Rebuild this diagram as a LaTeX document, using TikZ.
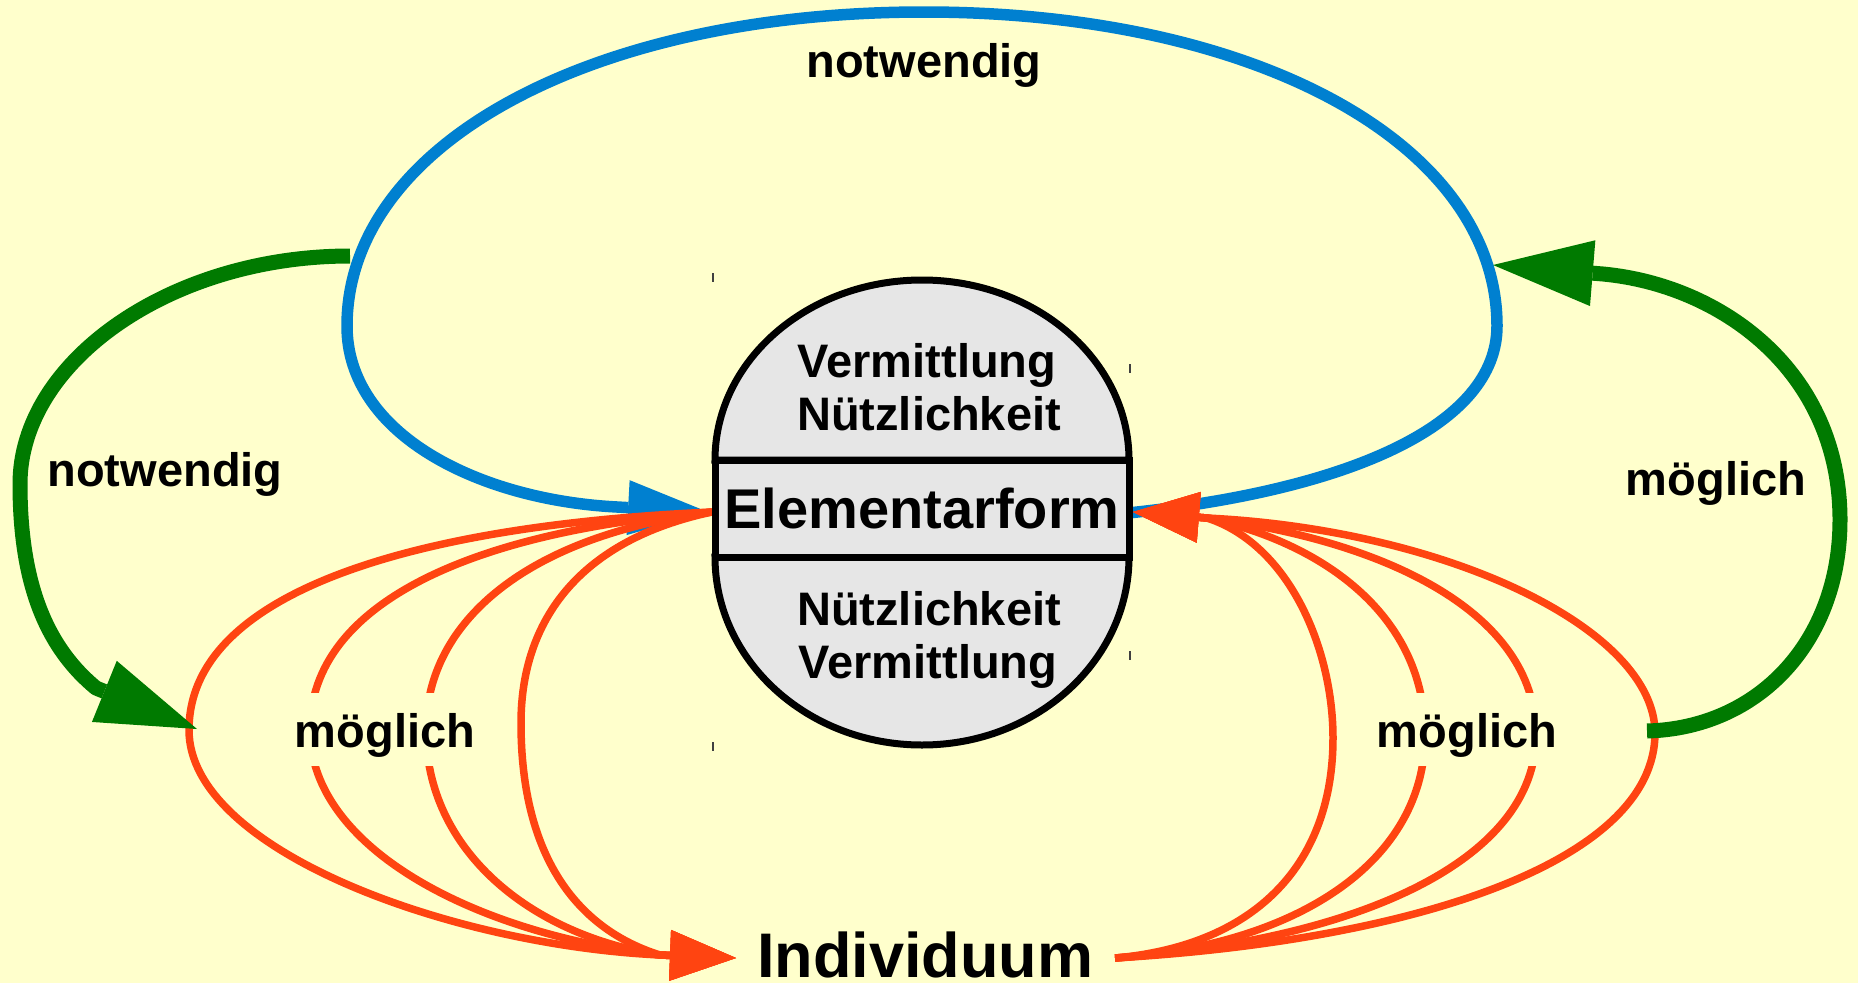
\documentclass[tikz,border=0pt]{standalone}
\usepackage{fontspec}
\setmainfont{Liberation Sans}
\usetikzlibrary{arrows.meta}
\definecolor{bg}{HTML}{FFFFCC}
\definecolor{lblue}{HTML}{0080D0}
\definecolor{lred}{HTML}{FF4411}
\definecolor{lgreen}{HTML}{007A00}
\definecolor{lgray}{HTML}{E6E6E6}
\begin{document}
\begin{tikzpicture}[x=1pt,y=-1pt,
  bluearc/.style={draw=lblue, line width=11.5pt, line join=round, -{Triangle[length=80pt,width=55pt,line width=0pt]}},
  redarc/.style={draw=lred, line width=7.5pt, line join=round, -{Triangle[length=66pt,width=51pt,line width=0pt]}},
  greenarc/.style={draw=lgreen, line width=15pt, line join=round, -{Triangle[length=100pt,width=66pt,line width=0pt]}},
  lbl/.style={font=\bfseries\fontsize{47}{47}\selectfont, inner sep=0pt, anchor=base},
  gaplbl/.style={lbl, fill=bg, text height=45pt, text depth=10pt, inner ysep=9pt, inner xsep=0pt},
  shapeline/.style={draw=black, line width=7pt, fill=lgray},
  tickmark/.style={draw=black!75, line width=1.3pt}
]
\fill[bg] (0,0) rectangle (1858,983);
\useasboundingbox (0,0) rectangle (1858,983);

% named end points
\coordinate (eL) at (712,512);
\coordinate (eLblue) at (708,512);
\coordinate (eRblue) at (1128,513);
\coordinate (Rtip) at (1133,512);
\coordinate (Rbase) at (1207,518);
\coordinate (iL) at (736,958);
\coordinate (iLbase) at (660,955);
\coordinate (iR) at (1115,958);
\coordinate (gLs) at (350,256);
\coordinate (gLtip) at (197,729);
\coordinate (gRs) at (1647,731);
\coordinate (gRtip) at (1493,265);

% blue loop
\draw[bluearc] (eRblue) .. controls (1350,490) and (1497,425) .. (1497,326)
  .. controls (1497,144) and (1256,12) .. (924,12)
  .. controls (592,12) and (347,144) .. (347,326)
  .. controls (347,435) and (480,500) .. (617,507) -- (eLblue);

% red curves left
\draw[redarc] (eL) .. controls (420,525) and (189,590) .. (189,730) .. controls (189,850) and (450,945) .. (iLbase) -- (iL);
\draw[redarc] (eL) .. controls (480,530) and (310,600) .. (310,730) .. controls (310,850) and (480,935) .. (iLbase) -- (iL);
\draw[redarc] (eL) .. controls (530,535) and (426,620) .. (426,730) .. controls (426,850) and (530,935) .. (iLbase) -- (iL);
\draw[redarc] (eL) .. controls (580,540) and (521,620) .. (521,723) .. controls (521,860) and (580,930) .. (iLbase) -- (iL);

% red curves right
\draw[redarc] (iR) .. controls (1260,945) and (1333,860) .. (1333,738) .. controls (1333,650) and (1290,545) .. (Rbase) -- (Rtip);
\draw[redarc] (iR) .. controls (1300,945) and (1425,860) .. (1425,735) .. controls (1425,620) and (1330,545) .. (Rbase) -- (Rtip);
\draw[redarc] (iR) .. controls (1360,940) and (1536,860) .. (1536,735) .. controls (1536,610) and (1380,540) .. (Rbase) -- (Rtip);
\draw[redarc] (iR) .. controls (1420,940) and (1655,860) .. (1655,733) .. controls (1655,630) and (1450,530) .. (Rbase) -- (Rtip);

% green arrows
\draw[greenarc] (gLs) .. controls (170,256) and (20,362) .. (20,484) .. controls (20,590) and (50,650) .. (96,688) -- (gLtip);
\draw[greenarc] (gRs) .. controls (1760,728) and (1840,640) .. (1840,520) .. controls (1840,370) and (1720,285) .. (1603,274) -- (gRtip);

% central shape
\filldraw[shapeline] (715,460) .. controls (715,360.6) and (807.7,280) .. (922,280) .. controls (1036.3,280) and (1129,360.6) .. (1129,460) -- cycle;
\filldraw[shapeline] (715,557) .. controls (715,660.8) and (807.7,745) .. (922,745) .. controls (1036.3,745) and (1129,660.8) .. (1129,557) -- cycle;
\node[shapeline, minimum width=414pt, minimum height=97pt, inner sep=0pt, font=\bfseries\fontsize{56}{56}\selectfont] (elem) at (922,508.5) {Elementarform};

\node[lbl] (t1) at (927,377) {Vermittlung};
\node[lbl] (t2) at (929,430) {Nützlichkeit};
\node[lbl] (b1) at (929,625) {Nützlichkeit};
\node[lbl] (b2) at (928,678) {Vermittlung};

% tick marks
\draw[tickmark] (713,273) -- (713,282);
\draw[tickmark] (1130,364) -- (1130,373);
\draw[tickmark] (1130,651) -- (1130,660);
\draw[tickmark] (713,742) -- (713,751);

% labels
\node[lbl] (ntop) at (924,77) {notwendig};
\node[lbl] (nleft) at (165,486) {notwendig};
\node[lbl] (mright) at (1716,495) {möglich};
\node[gaplbl] (mL) at (385,747) {möglich};
\node[gaplbl] (mR) at (1467,747) {möglich};
\node[lbl, font=\bfseries\fontsize{63}{63}\selectfont] (ind) at (925,977) {Individuum};
\end{tikzpicture}
\end{document}
